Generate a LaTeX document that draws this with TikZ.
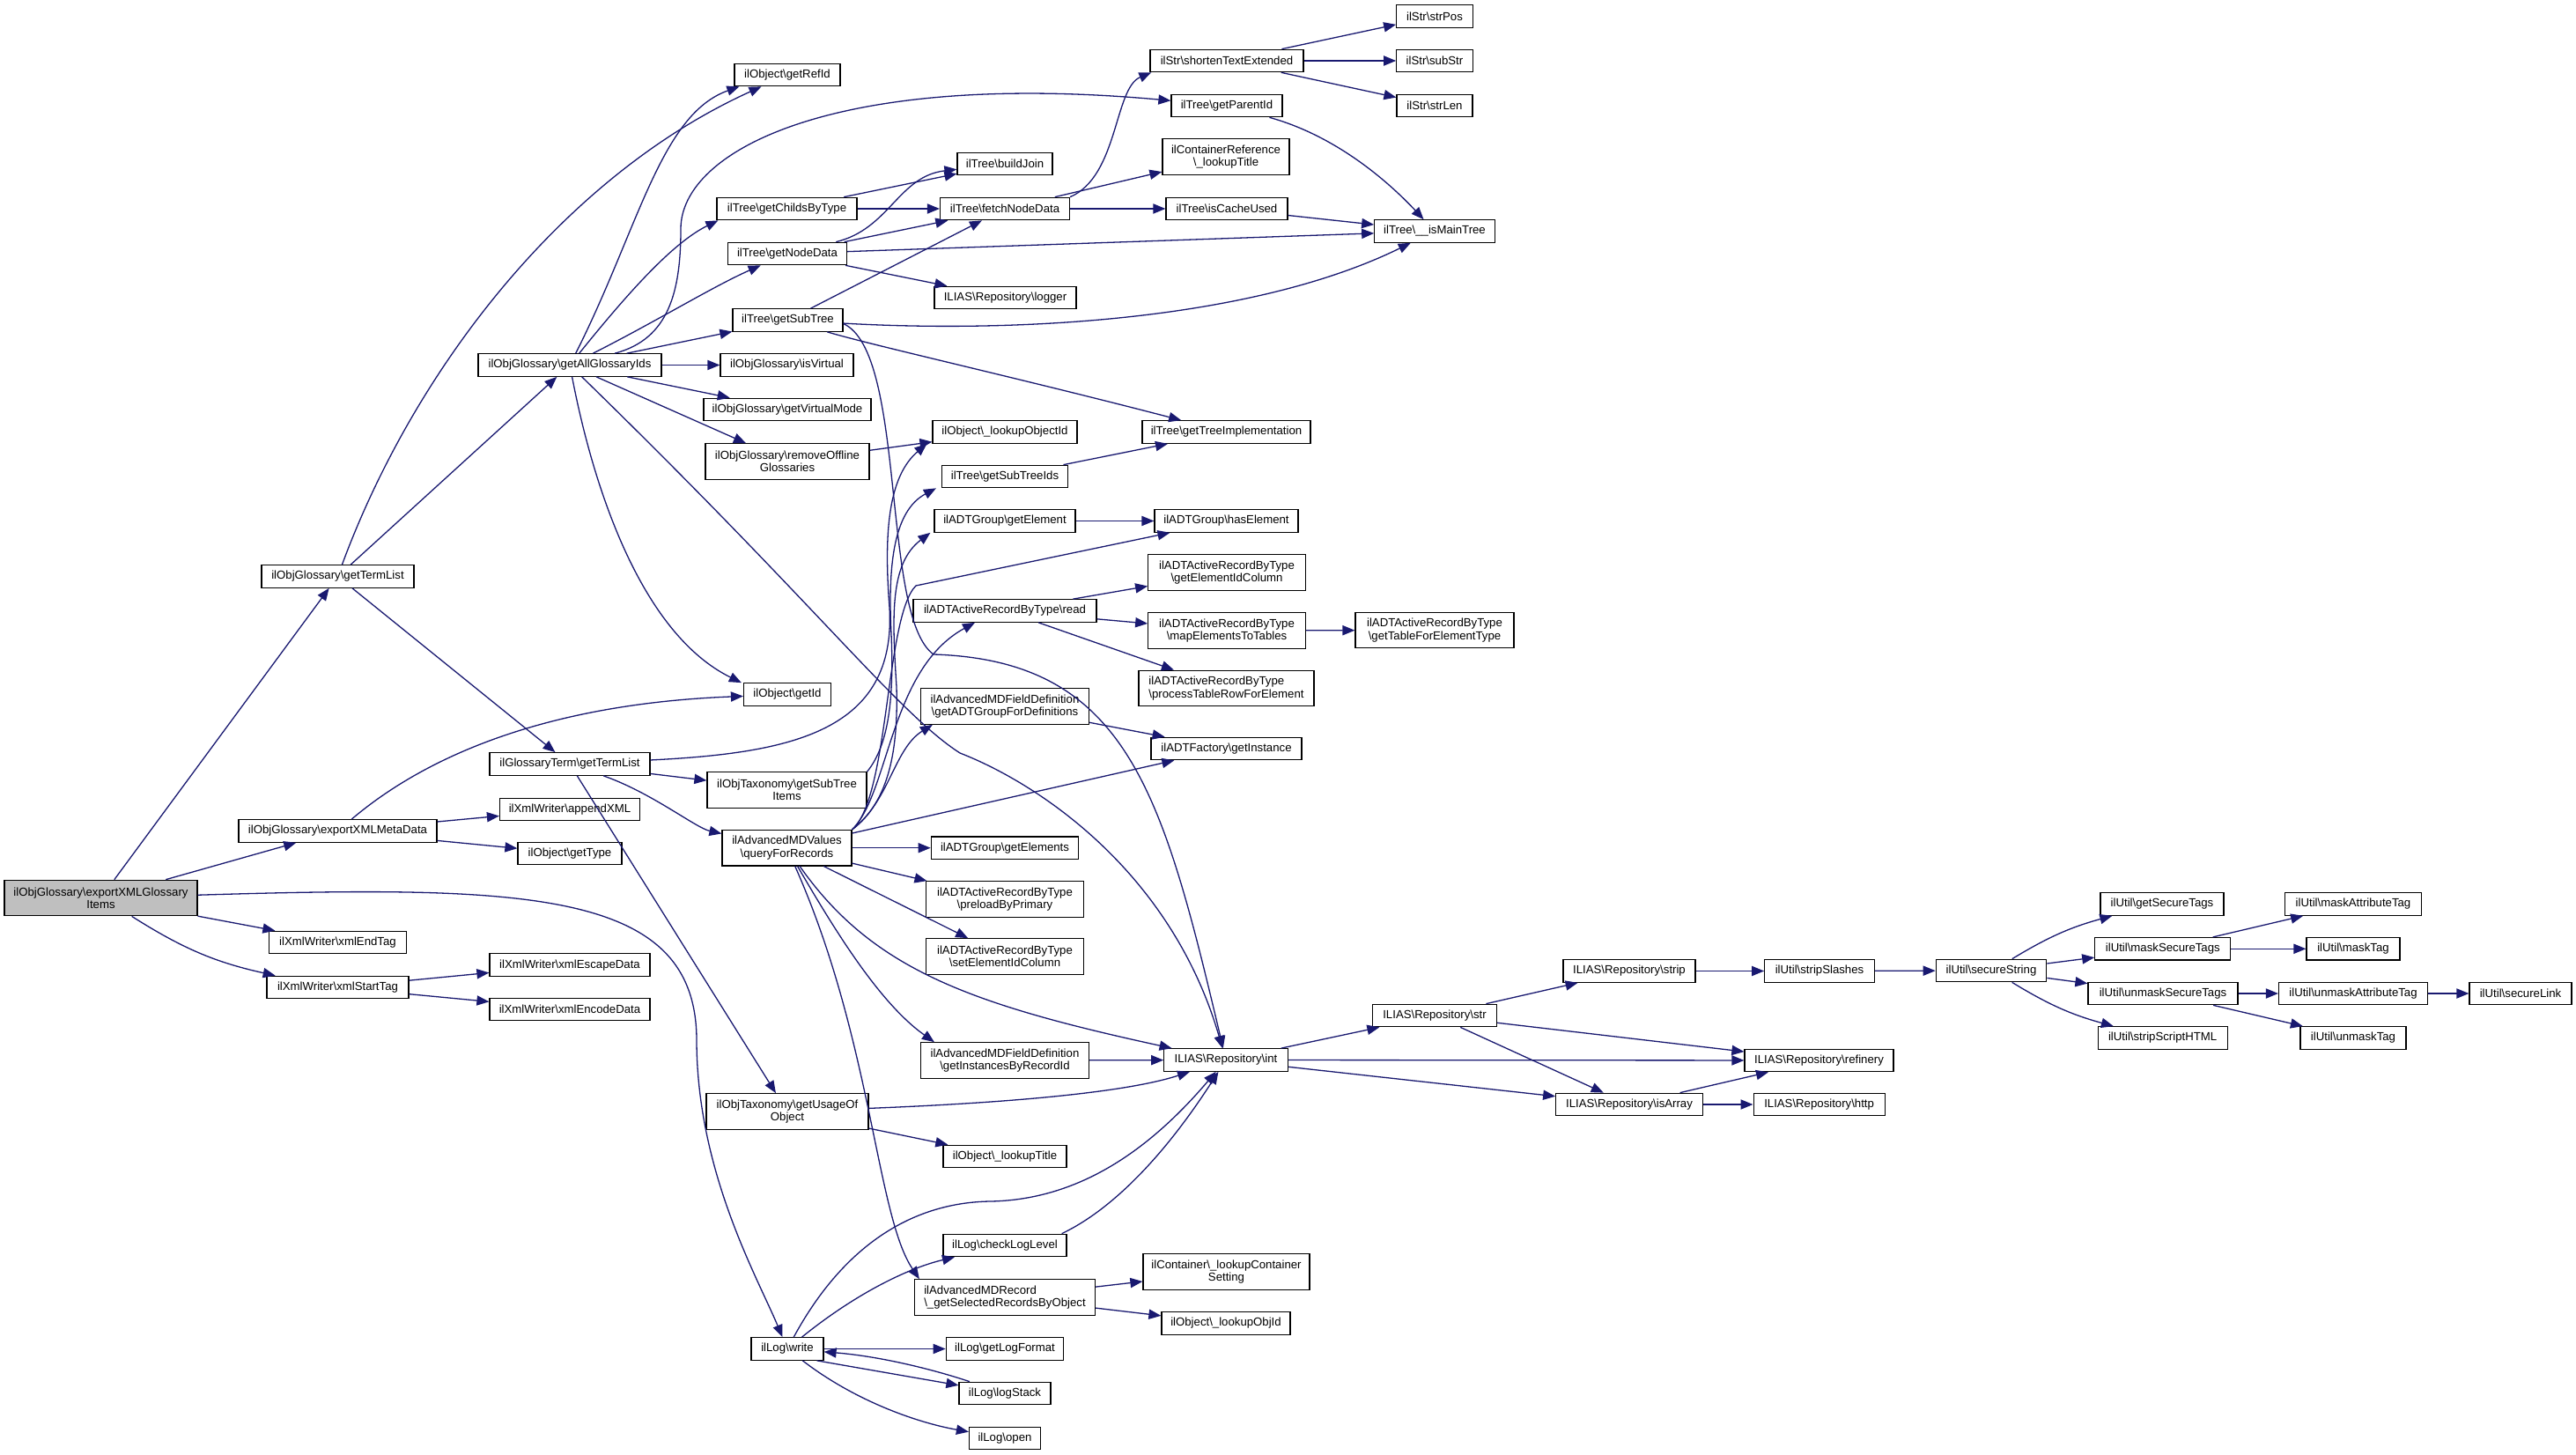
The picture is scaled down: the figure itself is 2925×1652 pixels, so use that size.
\documentclass[tikz,border=0pt]{standalone}
\usepackage{fontspec}
\setmainfont{Liberation Sans}
\usetikzlibrary{arrows.meta}
\definecolor{edgec}{RGB}{25,25,112}
\definecolor{grayfill}{RGB}{191,191,191}
\newcommand{\BSL}{\textbackslash}
\begin{document}
\begin{tikzpicture}[x=0.5pt,y=-0.5pt,
  nb/.style={draw=black, line width=0.6pt, fill=white, inner sep=0pt, minimum height=12.75pt,
    font=\fontsize{6.6pt}{7.2pt}\selectfont, align=center},
  nb2/.style={nb, minimum height=20.25pt},
  e/.style={draw=edgec, line width=0.65pt, -{Triangle[length=7pt,width=5.6pt]}}]
\useasboundingbox (0,0) rectangle (2925,1652);
% column 1
\node[nb2, fill=grayfill, minimum width=109.5pt] (export) at (114.5,1019.5) {ilObjGlossary\BSL exportXMLGlossary\\Items};
% column 2
\node[nb, minimum width=86.5pt] (termlistG) at (383.5,654.5) {ilObjGlossary\BSL getTermList};
\node[nb, minimum width=112.5pt] (metadata) at (383.5,943.5) {ilObjGlossary\BSL exportXMLMetaData};
\node[nb, minimum width=78pt] (endtag) at (383.5,1070) {ilXmlWriter\BSL xmlEndTag};
\node[nb, minimum width=80.5pt] (starttag) at (383.5,1121) {ilXmlWriter\BSL xmlStartTag};
% column 3
\node[nb, minimum width=104pt] (allids) at (647,414.5) {ilObjGlossary\BSL getAllGlossaryIds};
\node[nb, minimum width=91pt] (termlistT) at (647,867.5) {ilGlossaryTerm\BSL getTermList};
\node[nb, minimum width=79.5pt] (appendxml) at (647,919) {ilXmlWriter\BSL appendXML};
\node[nb, minimum width=59pt] (gettype) at (647,969) {ilObject\BSL getType};
\node[nb, minimum width=91pt] (escape) at (647,1095.6) {ilXmlWriter\BSL xmlEscapeData};
\node[nb, minimum width=91pt] (encode) at (647,1146) {ilXmlWriter\BSL xmlEncodeData};
% column 4
\node[nb, minimum width=60pt] (refid) at (894,85) {ilObject\BSL getRefId};
\node[nb, minimum width=79.5pt] (childs) at (893.5,237) {ilTree\BSL getChildsByType};
\node[nb, minimum width=67.5pt] (nodedata) at (894,288) {ilTree\BSL getNodeData};
\node[nb, minimum width=62.5pt] (subtree) at (894.5,363.5) {ilTree\BSL getSubTree};
\node[nb, minimum width=75.5pt] (isvirtual) at (893.5,414.5) {ilObjGlossary\BSL isVirtual};
\node[nb, minimum width=95pt] (virtmode) at (894,465) {ilObjGlossary\BSL getVirtualMode};
\node[nb2, minimum width=93pt] (removeoff) at (894,524) {ilObjGlossary\BSL removeOffline\\Glossaries};
\node[nb, minimum width=49.5pt] (getid) at (894,788.5) {ilObject\BSL getId};
\node[nb2, minimum width=90.5pt] (subtreeitems) at (893.5,897) {ilObjTaxonomy\BSL getSubTree\\Items};
\node[nb2, minimum width=73.5pt] (query) at (893.5,962.7) {ilAdvancedMDValues\\\BSL queryForRecords};
\node[nb2, minimum width=92pt] (usage) at (894,1262) {ilObjTaxonomy\BSL getUsageOf\\Object};
\node[nb, minimum width=41pt] (write) at (894,1531.5) {ilLog\BSL write};
% column 5
\node[nb, minimum width=54pt] (buildjoin) at (1141,186) {ilTree\BSL buildJoin};
\node[nb, minimum width=73.5pt] (fetch) at (1141,237) {ilTree\BSL fetchNodeData};
\node[nb, minimum width=80.5pt] (logger) at (1141.5,338) {ILIAS\BSL Repository\BSL logger};
\node[nb, minimum width=82pt] (lookupobjectid) at (1141,490.5) {ilObject\BSL\_lookupObjectId};
\node[nb, minimum width=71.5pt] (subtreeids) at (1141,541) {ilTree\BSL getSubTreeIds};
\node[nb, minimum width=80pt] (getelement) at (1141,591.5) {ilADTGroup\BSL getElement};
\node[nb, minimum width=104pt] (read) at (1141,693.5) {ilADTActiveRecordByType\BSL read};
\node[nb2, minimum width=95.5pt] (adtgroupdefs) at (1141,802) {ilAdvancedMDFieldDefinition\\\BSL getADTGroupForDefinitions};
\node[nb, minimum width=83.75pt] (getelements) at (1141,962.7) {ilADTGroup\BSL getElements};
\node[nb2, minimum width=89.5pt] (preload) at (1141,1021) {ilADTActiveRecordByType\\\BSL preloadByPrimary};
\node[nb2, minimum width=89.5pt] (setelem) at (1141,1086) {ilADTActiveRecordByType\\\BSL setElementIdColumn};
\node[nb2, minimum width=95.5pt] (instances) at (1141,1204) {ilAdvancedMDFieldDefinition\\\BSL getInstancesByRecordId};
\node[nb, minimum width=70pt] (lookuptitle) at (1141,1313) {ilObject\BSL\_lookupTitle};
\node[nb, minimum width=70pt] (checklog) at (1141,1414) {ilLog\BSL checkLogLevel};
\node[nb2, minimum width=102.5pt, align=left] (selected) at (1141,1473) {ilAdvancedMDRecord\\\BSL\_getSelectedRecordsByObject};
\node[nb, minimum width=66.75pt] (logformat) at (1141,1531.5) {ilLog\BSL getLogFormat};
\node[nb, minimum width=52pt] (logstack) at (1141,1582) {ilLog\BSL logStack};
\node[nb, minimum width=40.5pt] (nopen) at (1141,1633) {ilLog\BSL open};
% column 6
\node[nb, minimum width=87pt] (shorten) at (1393,69) {ilStr\BSL shortenTextExtended};
\node[nb, minimum width=63pt] (parentid) at (1393,120) {ilTree\BSL getParentId};
\node[nb2, minimum width=72pt] (crlookup) at (1392,178) {ilContainerReference\\\BSL\_lookupTitle};
\node[nb, minimum width=69pt] (cacheused) at (1393,237) {ilTree\BSL isCacheUsed};
\node[nb, minimum width=95.5pt] (treeimpl) at (1392.5,490.5) {ilTree\BSL getTreeImplementation};
\node[nb, minimum width=81.5pt] (haselement) at (1392.5,591.5) {ilADTGroup\BSL hasElement};
\node[nb2, minimum width=89.25pt] (elemidcol) at (1393,650) {ilADTActiveRecordByType\\\BSL getElementIdColumn};
\node[nb2, minimum width=89.25pt] (mapelem) at (1393,716) {ilADTActiveRecordByType\\\BSL mapElementsToTables};
\node[nb2, minimum width=99.5pt, align=left] (processrow) at (1392.5,781.5) {ilADTActiveRecordByType\\\BSL processTableRowForElement};
\node[nb, minimum width=85.5pt] (adtfactory) at (1392.5,850) {ilADTFactory\BSL getInstance};
\node[nb, minimum width=70.25pt] (nint) at (1392,1203.5) {ILIAS\BSL Repository\BSL int};
\node[nb2, minimum width=94.5pt] (containersetting) at (1392.5,1444) {ilContainer\BSL\_lookupContainer\\Setting};
\node[nb, minimum width=73pt] (lookupobjid) at (1392,1502.5) {ilObject\BSL\_lookupObjId};
% column 7
\node[nb, minimum width=43.25pt] (strpos) at (1629,18.5) {ilStr\BSL strPos};
\node[nb, minimum width=43.25pt] (substr) at (1629,69) {ilStr\BSL subStr};
\node[nb, minimum width=43pt] (strlen) at (1629,120) {ilStr\BSL strLen};
\node[nb, minimum width=68.25pt] (ismaintree) at (1629,262.5) {ilTree\BSL\_\_isMainTree};
\node[nb2, minimum width=90pt] (tableforelem) at (1629,715.5) {ilADTActiveRecordByType\\\BSL getTableForElementType};
\node[nb, minimum width=70.5pt] (nstr) at (1629,1153) {ILIAS\BSL Repository\BSL str};
% columns 8-13
\node[nb, minimum width=75pt] (strip) at (1850,1102.5) {ILIAS\BSL Repository\BSL strip};
\node[nb, minimum width=83.25pt] (isarray) at (1850,1254) {ILIAS\BSL Repository\BSL isArray};
\node[nb, minimum width=62.25pt] (stripslashes) at (2066,1102.5) {ilUtil\BSL stripSlashes};
\node[nb, minimum width=84.5pt] (refinery) at (2065.5,1204) {ILIAS\BSL Repository\BSL refinery};
\node[nb, minimum width=74.5pt] (http) at (2065.6,1254) {ILIAS\BSL Repository\BSL http};
\node[nb, minimum width=62.75pt] (securestring) at (2261,1102) {ilUtil\BSL secureString};
\node[nb, minimum width=70pt] (getsecuretags) at (2455,1026.5) {ilUtil\BSL getSecureTags};
\node[nb, minimum width=77pt] (masksecure) at (2455.8,1077.3) {ilUtil\BSL maskSecureTags};
\node[nb, minimum width=85pt] (unmasksecure) at (2456,1128) {ilUtil\BSL unmaskSecureTags};
\node[nb, minimum width=73.5pt] (stripscript) at (2455.6,1178.5) {ilUtil\BSL stripScriptHTML};
\node[nb, minimum width=77.5pt] (maskattr) at (2672,1026.5) {ilUtil\BSL maskAttributeTag};
\node[nb, minimum width=53pt] (masktag) at (2672,1077.3) {ilUtil\BSL maskTag};
\node[nb, minimum width=84.5pt] (unmaskattr) at (2672,1128) {ilUtil\BSL unmaskAttributeTag};
\node[nb, minimum width=60pt] (unmasktag) at (2672,1178.5) {ilUtil\BSL unmaskTag};
\node[nb, minimum width=58pt] (securelink) at (2862,1128) {ilUtil\BSL secureLink};

% ---------------- edges ----------------
\draw[e] (export) -- (termlistG);
\draw[e] (export) -- (metadata);
\draw[e] (export) -- (endtag);
\draw[e] (export) to[bend right=10] (starttag);
\draw[e] (export) .. controls (600,1005) and (790,1010) .. (791,1180) .. controls (791,1330) and (860,1450) .. (write);

\draw[e] (termlistG) .. controls (470,420) and (640,200) .. (refid);
\draw[e] (termlistG) -- (allids);
\draw[e] (termlistG) -- (termlistT);

\draw[e] (metadata) .. controls (470,870) and (600,800) .. (getid);
\draw[e] (metadata) -- (appendxml);
\draw[e] (metadata) -- (gettype);
\draw[e] (starttag) -- (escape);
\draw[e] (starttag) -- (encode);

\draw[e] (allids) .. controls (725,260) and (750,130) .. ([xshift=3pt]refid.south west);
\draw[e] (allids) .. controls (760,385) and (773,330) .. (773,260) .. controls (773,170) and (950,80) .. (parentid);
\draw[e] (allids) .. controls (715,330) and (765,275) .. ([xshift=1pt]childs.south west);
\draw[e] (allids) .. controls (745,365) and (810,325) .. (nodedata);
\draw[e] (allids) -- (subtree);
\draw[e] (allids) -- (isvirtual);
\draw[e] (allids) -- (virtmode);
\draw[e] (allids) -- (removeoff);
\draw[e] (allids) .. controls (675,560) and (730,720) .. ([xshift=-1pt]getid.north west);
\draw[e] (allids) .. controls (930,690) and (1020,810) .. (1090,855) .. controls (1180,890) and (1330,990) .. (nint);

\draw[e] (childs) -- (buildjoin);
\draw[e] (childs) -- (fetch);
\draw[e] (nodedata) .. controls (1010,260) and (1020,200) .. (buildjoin);
\draw[e] (nodedata) -- (fetch);
\draw[e] (nodedata) -- (logger);
\draw[e] (nodedata) -- (ismaintree);
\draw[e] (subtree) -- (fetch);
\draw[e] (subtree) .. controls (1150,378) and (1420,365) .. (ismaintree);
\draw[e] (subtree) .. controls (990,392) and (1160,430) .. (treeimpl);
\draw[e] ([yshift=-2pt]subtree.east) .. controls (1030,400) and (1000,700) .. (1060,743) .. controls (1280,750) and (1320,900) .. (nint);
\draw[e] (removeoff) -- (lookupobjectid);

\draw[e] (termlistT) .. controls (900,855) and (1018,830) .. (1010,690) .. controls (1003,600) and (1010,540) .. ([xshift=-3pt]lookupobjectid.south west);
\draw[e] (termlistT) -- (subtreeitems);
\draw[e] (termlistT) .. controls (740,900) and (790,940) .. (query);
\draw[e] (termlistT) -- (usage);
\draw[e] (subtreeitems.north east) .. controls (1010,845) and (1015,790) .. (1012,720) .. controls (1008,640) and (1015,580) .. ([xshift=-3pt]subtreeids.south west);

\draw[e] (query.north east) .. controls (1010,910) and (1020,850) .. (1018,780) .. controls (1013,700) and (1010,640) .. ([xshift=-2pt]getelement.south west);
\draw[e] (query.north east) .. controls (1010,905) and (1005,700) .. (1040,665) -- (haselement);
\draw[e] (query.north east) .. controls (1010,900) and (1010,760) .. ([xshift=-17pt]read.south);
\draw[e] (query.north east) .. controls (1010,910) and (1015,850) .. ([xshift=7pt]adtgroupdefs.south west);
\draw[e] (query) -- (adtfactory);
\draw[e] (query) -- (getelements);
\draw[e] (query) -- (preload);
\draw[e] (query) -- (setelem);
\draw[e] (query) .. controls (950,1060) and (1000,1140) .. ([xshift=8pt]instances.north west);
\draw[e] (query) .. controls (990,1100) and (1100,1140) .. (nint);
\draw[e] (query) .. controls (990,1180) and (995,1380) .. ([xshift=3pt]selected.north west);

\draw[e] (read) -- (elemidcol);
\draw[e] (read) -- (mapelem);
\draw[e] (read) -- (processrow);
\draw[e] (mapelem) -- (tableforelem);
\draw[e] (getelement) -- (haselement);
\draw[e] (adtgroupdefs) -- (adtfactory);
\draw[e] (subtreeids) -- (treeimpl);

\draw[e] (fetch.north east) .. controls (1270,200) and (1265,100) .. ([xshift=1pt]shorten.south west);
\draw[e] (fetch) -- (crlookup);
\draw[e] (fetch) -- (cacheused);
\draw[e] (cacheused) -- (ismaintree);
\draw[e] (parentid) .. controls (1520,155) and (1580,210) .. (ismaintree);
\draw[e] (shorten) -- (strpos);
\draw[e] (shorten) -- (substr);
\draw[e] (shorten) -- (strlen);

\draw[e] (usage) .. controls (1150,1252) and (1280,1240) .. (nint);
\draw[e] (usage) -- (lookuptitle);
\draw[e] (instances) -- (nint);
\draw[e] (selected) -- (containersetting);
\draw[e] (selected) -- (lookupobjid);

\draw[e] (write) .. controls (960,1410) and (1040,1365) .. (1125,1364) .. controls (1230,1362) and (1310,1300) .. (nint);
\draw[e] ([xshift=-3pt]checklog.north east) .. controls (1270,1370) and (1330,1300) .. (nint);
\draw[e] (write) .. controls (970,1470) and (1030,1440) .. (checklog);
\draw[e] (write) -- (logformat);
\draw[e] (logstack) .. controls (1060,1555) and (1000,1540) .. (write);
\draw[e] ([xshift=-4pt]write.south east) -- (logstack);
\draw[e] (write) .. controls (970,1590) and (1040,1615) .. (nopen);

\draw[e] (nint) -- (nstr);
\draw[e] (nint) -- (refinery);
\draw[e] (nint) -- (isarray);
\draw[e] (nstr) -- (strip);
\draw[e] (nstr) -- (refinery);
\draw[e] (nstr) -- (isarray);
\draw[e] (strip) -- (stripslashes);
\draw[e] (stripslashes) -- (securestring);
\draw[e] (isarray) -- (refinery);
\draw[e] (isarray) -- (http);
\draw[e] (securestring) to[bend left=8] (getsecuretags);
\draw[e] (securestring) -- (masksecure);
\draw[e] (securestring) -- (unmasksecure);
\draw[e] (securestring) to[bend right=8] (stripscript);
\draw[e] (masksecure) -- (maskattr);
\draw[e] (masksecure) -- (masktag);
\draw[e] (unmasksecure) -- (unmaskattr);
\draw[e] (unmasksecure) -- (unmasktag);
\draw[e] (unmaskattr) -- (securelink);
\end{tikzpicture}
\end{document}
